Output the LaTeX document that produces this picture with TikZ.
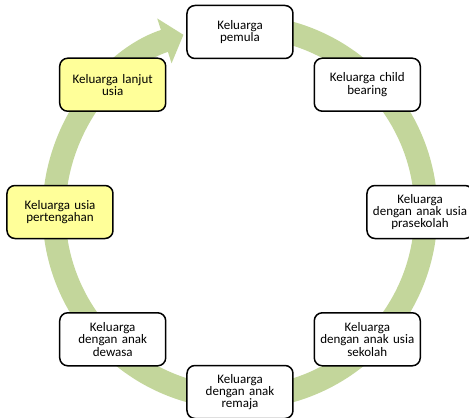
\documentclass[tikz,border=0pt]{standalone}
\usepackage{fontspec}
\setmainfont{Carlito}
\usetikzlibrary{arrows.meta}
\definecolor{siklus}{RGB}{195,214,155}
\definecolor{kuning}{RGB}{255,255,153}

\begin{document}
\begin{tikzpicture}[
		tahap/.style={draw=black, line width=1.5pt, rounded corners=8pt, fill=white,
			minimum width=106pt, minimum height=53pt, text width=104pt, align=center,
			font=\fontsize{13pt}{12.3pt}\selectfont, inner sep=1pt},
		tua/.style={tahap, fill=kuning}]
		\def\rn{180pt}
		\def\ra{186pt}
		\useasboundingbox (-240pt,-206pt) rectangle (229pt,212pt);
		% panah siklus
		\draw[siklus, line width=23pt, -{Triangle[width=46pt, length=20pt]}]
			(80:\ra) arc (80:-252.3:\ra);
		\node[tahap] (s0) at (90:\rn) {Keluarga\\pemula};
		\node[tahap] (s1) at (45:\rn) {Keluarga child\\bearing};
		\node[tahap] (s2) at (0:\rn) {Keluarga\\dengan anak usia\\prasekolah};
		\node[tahap] (s3) at (-45:\rn) {Keluarga\\dengan anak usia\\sekolah};
		\node[tahap] (s4) at (-90:\rn) {Keluarga\\dengan anak\\remaja};
		\node[tahap] (s5) at (-135:\rn) {Keluarga\\dengan anak\\dewasa};
		\node[tua] (s6) at (180:\rn) {Keluarga usia\\pertengahan};
		\node[tua] (s7) at (135:\rn) {Keluarga lanjut\\usia};
	\end{tikzpicture}
\end{document}
